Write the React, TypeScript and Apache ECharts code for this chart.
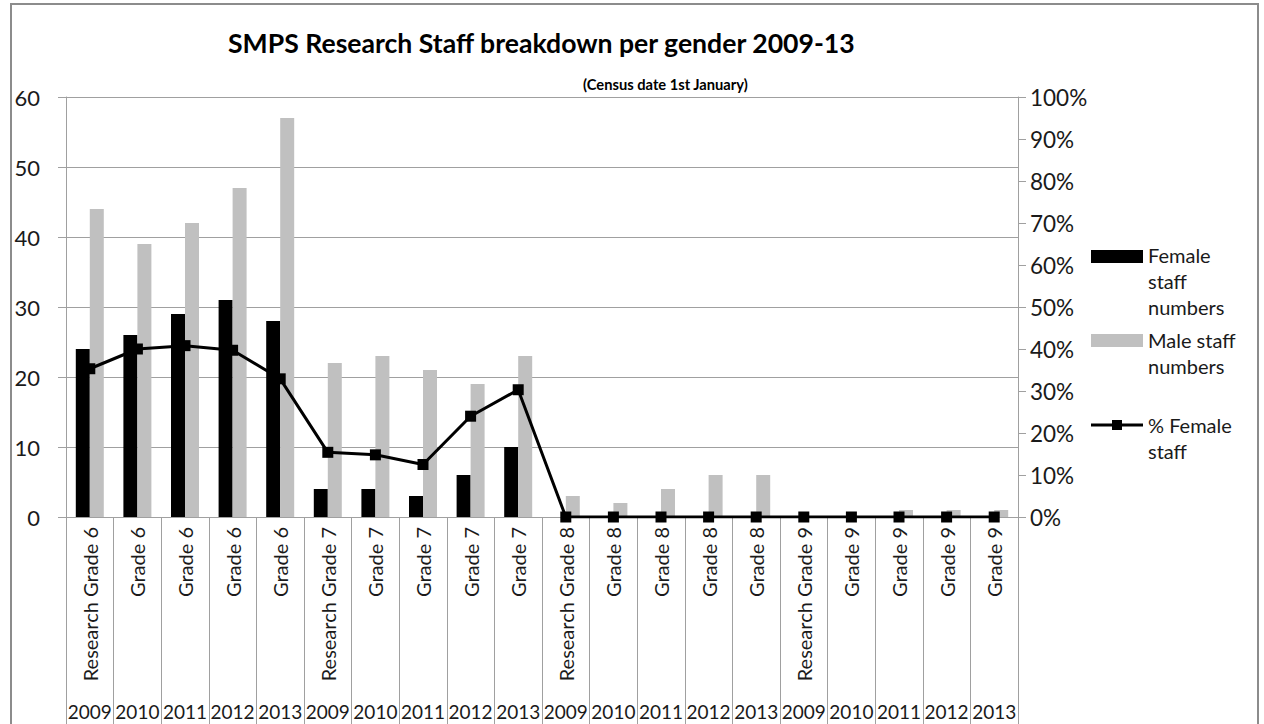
import React, { useEffect, useRef } from 'react';
import * as echarts from 'echarts';

const gradeLabels = [
  'Research Grade 6', 'Grade 6', 'Grade 6', 'Grade 6', 'Grade 6',
  'Research Grade 7', 'Grade 7', 'Grade 7', 'Grade 7', 'Grade 7',
  'Research Grade 8', 'Grade 8', 'Grade 8', 'Grade 8', 'Grade 8',
  'Research Grade 9', 'Grade 9', 'Grade 9', 'Grade 9', 'Grade 9',
];
const yearLabels = [
  '2009', '2010', '2011', '2012', '2013',
  '2009', '2010', '2011', '2012', '2013',
  '2009', '2010', '2011', '2012', '2013',
  '2009', '2010', '2011', '2012', '2013',
];
const femaleStaff = [24, 26, 29, 31, 28, 4, 4, 3, 6, 10, 0, 0, 0, 0, 0, 0, 0, 0, 0, 0];
const maleStaff = [44, 39, 42, 47, 57, 22, 23, 21, 19, 23, 3, 2, 4, 6, 6, 0, 0, 1, 1, 1];
const pctFemale = [35.3, 40.0, 40.8, 39.7, 32.9, 15.4, 14.8, 12.5, 24.0, 30.3, 0, 0, 0, 0, 0, 0, 0, 0, 0, 0];

const FONT = 'Lato, "Open Sans", sans-serif';
const GRID_COLOR = '#a0a0a0';
const TEXT_COLOR = '#1a1a1a';

export default function App() {
  const ref = useRef<HTMLDivElement>(null);
  useEffect(() => {
    if (!ref.current) return;
    const chart = echarts.init(ref.current, undefined, { renderer: 'svg' });
    chart.setOption({
      animation: false,
      backgroundColor: '#fff',
      textStyle: { fontFamily: FONT },
      title: [
        {
          text: 'SMPS Research Staff breakdown per gender 2009-13',
          left: 228,
          top: 29,
          padding: 0,
          textStyle: { fontFamily: FONT, fontSize: 26.6, fontWeight: 'bold', color: '#000' },
        },
        {
          text: '(Census date 1st January)',
          left: 583,
          top: 76,
          padding: 0,
          textStyle: { fontFamily: FONT, fontSize: 14.7, fontWeight: 'bold', color: '#000' },
        },
      ],
      grid: { left: 66, right: 246, top: 97, height: 420, containLabel: false },
      xAxis: [
        {
          type: 'category',
          data: gradeLabels,
          position: 'bottom',
          boundaryGap: true,
          axisLine: { show: true, lineStyle: { color: GRID_COLOR, width: 1 } },
          axisTick: { show: true, length: 210, lineStyle: { color: GRID_COLOR, width: 1 } },
          axisLabel: {
            rotate: 90,
            interval: 0,
            margin: 10,
            fontFamily: FONT,
            fontSize: 20,
            color: TEXT_COLOR,
          },
        },
        {
          type: 'category',
          data: yearLabels,
          position: 'bottom',
          offset: 185,
          boundaryGap: true,
          axisLine: { show: false },
          axisTick: { show: false },
          axisLabel: {
            interval: 0,
            margin: 0,
            fontFamily: FONT,
            fontSize: 19,
            color: TEXT_COLOR,
          },
        },
      ],
      yAxis: [
        {
          type: 'value',
          min: 0,
          max: 60,
          interval: 10,
          position: 'left',
          axisLine: { show: true, lineStyle: { color: GRID_COLOR } },
          axisTick: { show: true, length: 8, lineStyle: { color: GRID_COLOR } },
          splitLine: { show: true, lineStyle: { color: GRID_COLOR, width: 1 } },
          axisLabel: { fontFamily: FONT, fontSize: 22, color: TEXT_COLOR, margin: 26 },
        },
        {
          type: 'value',
          min: 0,
          max: 100,
          interval: 10,
          position: 'right',
          axisLine: { show: true, lineStyle: { color: GRID_COLOR } },
          axisTick: { show: true, length: 8, lineStyle: { color: GRID_COLOR } },
          splitLine: { show: false },
          axisLabel: {
            fontFamily: FONT,
            fontSize: 22.5,
            color: TEXT_COLOR,
            margin: 12,
            formatter: '{value}%',
          },
        },
      ],
      series: [
        {
          name: 'Female staff numbers',
          type: 'bar',
          xAxisIndex: 0,
          yAxisIndex: 0,
          data: femaleStaff,
          barWidth: 14,
          barGap: '0%',
          itemStyle: { color: '#000000' },
        },
        {
          name: 'Male staff numbers',
          type: 'bar',
          xAxisIndex: 0,
          yAxisIndex: 0,
          data: maleStaff,
          barWidth: 14,
          barGap: '0%',
          itemStyle: { color: '#c0c0c0' },
        },
        {
          name: '% Female staff',
          type: 'line',
          xAxisIndex: 0,
          yAxisIndex: 1,
          data: pctFemale,
          symbol: 'rect',
          symbolSize: 11,
          lineStyle: { color: '#000', width: 3 },
          itemStyle: { color: '#000' },
          z: 5,
        },
      ],
      graphic: [
        {
          type: 'rect',
          shape: { x: 11, y: 4, width: 1247, height: 800 },
          style: { fill: 'none', stroke: '#8c8c8c', lineWidth: 2 },
          silent: true,
          z: -1,
        },
        {
          type: 'rect',
          shape: { x: 1091, y: 250, width: 52, height: 13 },
          style: { fill: '#000' },
        },
        {
          type: 'text',
          x: 1148,
          y: 242,
          style: {
            text: 'Female\nstaff\nnumbers',
            font: `20px ${FONT}`,
            lineHeight: 26,
            fill: TEXT_COLOR,
            verticalAlign: 'top',
          },
        },
        {
          type: 'rect',
          shape: { x: 1091, y: 334, width: 52, height: 13 },
          style: { fill: '#c0c0c0' },
        },
        {
          type: 'text',
          x: 1148,
          y: 327,
          style: {
            text: 'Male staff\nnumbers',
            font: `20px ${FONT}`,
            lineHeight: 26,
            fill: TEXT_COLOR,
            verticalAlign: 'top',
          },
        },
        {
          type: 'line',
          shape: { x1: 1091, y1: 425, x2: 1143, y2: 425 },
          style: { stroke: '#000', lineWidth: 3 },
        },
        {
          type: 'rect',
          shape: { x: 1112, y: 420, width: 10, height: 10 },
          style: { fill: '#000' },
        },
        {
          type: 'text',
          x: 1148,
          y: 412,
          style: {
            text: '% Female\nstaff',
            font: `20px ${FONT}`,
            lineHeight: 26,
            fill: TEXT_COLOR,
            verticalAlign: 'top',
          },
        },
      ],
    });
    return () => chart.dispose();
  }, []);
  return (
    <div
      ref={ref}
      style={{ position: 'fixed', left: 0, top: 0, width: 1264, height: 724 }}
    />
  );
}
